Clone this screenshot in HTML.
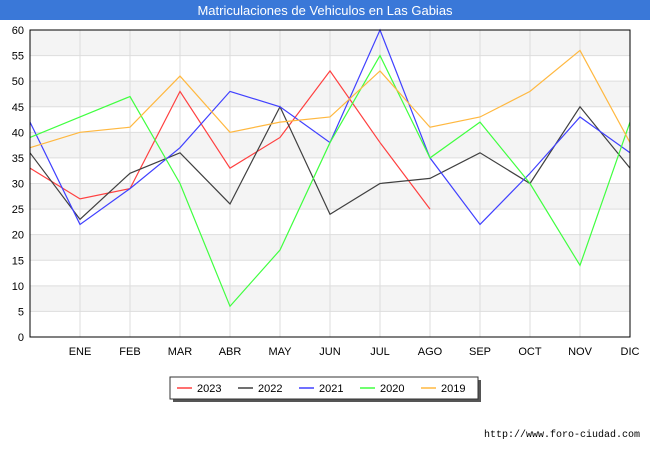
<!DOCTYPE html>
<html><head><meta charset="utf-8"><style>
body{margin:0;background:#fff;font-family:"Liberation Sans",sans-serif}
</style></head><body>
<svg id="c" width="650" height="450" xmlns="http://www.w3.org/2000/svg">
<rect x="0" y="0" width="650" height="450" fill="#fff"/>
<rect x="0" y="0" width="650" height="20" fill="#3a78d8"/>
<text x="325" y="15" text-anchor="middle" font-size="13" fill="#fff">Matriculaciones de Vehiculos en Las Gabias</text>
<g id="grid"></g>
<g id="series"></g>
<g id="axes"></g>
<g>
<rect x="173" y="380" width="308" height="22" fill="#555"/>
<rect x="170" y="377" width="308" height="22" fill="#fff" stroke="#333"/>
<g id="legend"></g>
</g>
<text x="640" y="437" text-anchor="end" font-size="10" fill="#000" font-family="Liberation Mono, monospace">http://www.foro-ciudad.com</text>
</svg>
<script>
const categories=["","ENE","FEB","MAR","ABR","MAY","JUN","JUL","AGO","SEP","OCT","NOV","DIC"];
const yTicks=[0,5,10,15,20,25,30,35,40,45,50,55,60];
const seriesNames=["2023","2022","2021","2020","2019"];
const seriesColors=["#ff4040","#404040","#4040ff","#40ff40","#ffb840"];
const s2023=[33,27,29,48,33,39,52,38,25];
const s2022=[36,23,32,36,26,45,24,30,31,36,30,45,33];
const s2021=[42,22,29,37,48,45,38,60,35,22,32,43,36];
const s2020=[39,43,47,30,6,17,38,55,35,42,30,14,42];
const s2019=[37,40,41,51,40,42,43,52,41,43,48,56,38];
const allSeries=[s2023,s2022,s2021,s2020,s2019];
const L=30,R=630,T=30,B=337,NS="http://www.w3.org/2000/svg";
const x=i=>L+i*(R-L)/(categories.length-1);
const y=v=>B-v*(B-T)/60;
function mk(tag,attrs,parent){const e=document.createElementNS(NS,tag);for(const k in attrs)e.setAttribute(k,attrs[k]);parent.appendChild(e);return e;}
const grid=document.getElementById('grid'),axes=document.getElementById('axes'),ser=document.getElementById('series'),leg=document.getElementById('legend');
for(let i=0;i<yTicks.length-1;i++){if(i%2===1){const r=mk('rect',{x:L,y:y(yTicks[i+1]),width:R-L,height:y(yTicks[i])-y(yTicks[i+1]),fill:'#f4f4f4'},grid);}}
yTicks.forEach(v=>{const l=mk('line',{x1:L,x2:R,y1:y(v),y2:y(v),stroke:'#ddd'},grid);
const t=mk('text',{x:L-6,y:y(v)+4,'text-anchor':'end','font-size':11,fill:'#000'},axes);t.textContent=v;});
categories.forEach((c,i)=>{const l=mk('line',{x1:x(i),x2:x(i),y1:T,y2:B,stroke:'#ddd'},grid);
if(c){const t=mk('text',{x:x(i),y:B+18,'text-anchor':'middle','font-size':11,fill:'#000'},axes);t.textContent=c;}});
const fr=mk('rect',{x:L,y:T,width:R-L,height:B-T,fill:'none',stroke:'#000'},axes);
allSeries.forEach((d,k)=>{const p=mk('polyline',{points:d.map((v,i)=>x(i)+','+y(v)).join(' '),fill:'none',stroke:seriesColors[k],'stroke-width':1.2},ser);
const lx=177+k*61;const ll=mk('line',{x1:lx,x2:lx+15,y1:388,y2:388,stroke:seriesColors[k],'stroke-width':1.5},leg);
const lt=mk('text',{x:lx+20,y:392,'font-size':11,fill:'#000'},leg);lt.textContent=seriesNames[k];});
</script>
</body></html>
